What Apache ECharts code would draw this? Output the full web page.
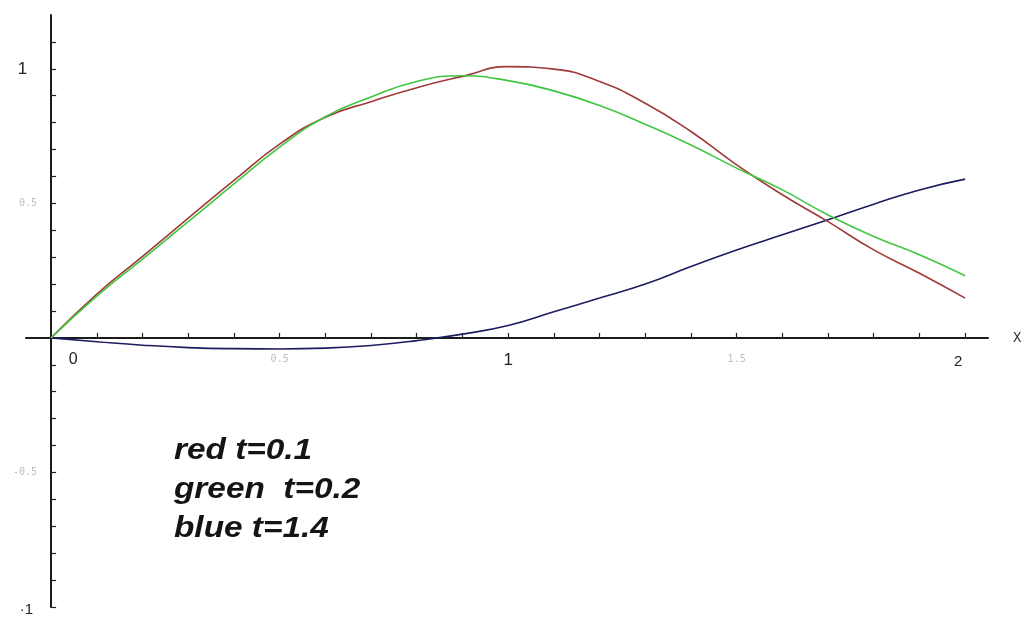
<!DOCTYPE html>
<html>
<head>
<meta charset="utf-8">
<script src="https://cdn.jsdelivr.net/npm/echarts@6/dist/echarts.min.js"></script>
<style>
  html, body { margin: 0; padding: 0; background: #ffffff; }
  #chart { width: 1024px; height: 624px; }
</style>
</head>
<body>
<div id="chart"></div>
<script>
// x positions of the sampled solution values
const xs = [0, 0.1, 0.2, 0.3, 0.4, 0.5, 0.6, 0.7, 0.8, 0.9, 1.0,
            1.1, 1.2, 1.3, 1.4, 1.5, 1.6, 1.7, 1.8, 1.9, 2.0];

// solution profiles for three values of t
const redT01 = [0, 0.163, 0.303, 0.445, 0.585, 0.72, 0.82, 0.878, 0.93, 0.972, 1.008,
                0.999, 0.953, 0.872, 0.767, 0.643, 0.532, 0.432, 0.327, 0.24, 0.148];
const greenT02 = [0, 0.155, 0.293, 0.432, 0.572, 0.709, 0.822, 0.895, 0.953, 0.974, 0.956,
                  0.918, 0.864, 0.794, 0.717, 0.631, 0.55, 0.457, 0.377, 0.309, 0.231];
const blueT14 = [0, -0.014, -0.027, -0.036, -0.04, -0.041, -0.038, -0.028, -0.01, 0.014, 0.046,
                 0.097, 0.148, 0.2, 0.265, 0.327, 0.383, 0.439, 0.497, 0.55, 0.59];

// axis ticks and labels
const xTicks = [0.1, 0.2, 0.3, 0.4, 0.5, 0.6, 0.7, 0.8, 0.9, 1.0,
                1.1, 1.2, 1.3, 1.4, 1.5, 1.6, 1.7, 1.8, 1.9, 2.0];
const xLabels = [0, 0.5, 1, 1.5, 2];
const yTicks = [-1, -0.9, -0.8, -0.7, -0.6, -0.5, -0.4, -0.3, -0.2, -0.1,
                0.1, 0.2, 0.3, 0.4, 0.5, 0.6, 0.7, 0.8, 0.9, 1.0, 1.1];
const yLabels = [-1, -0.5, 0.5, 1];

// legend notes
const notes = ['red t=0.1', 'green  t=0.2', 'blue t=1.4'];

const X_MIN = -0.055, X_MAX = 2.05, Y_MIN = -1, Y_MAX = 1.2;
const GRID = { left: 26, right: 36, top: 15, bottom: 17 };
const W = 1024, H = 624;

// place the axes through the origin: shift them inward from the grid edges
const plotW = W - GRID.left - GRID.right;
const plotH = H - GRID.top - GRID.bottom;
const xAxisShift = -(0 - Y_MIN) / (Y_MAX - Y_MIN) * plotH;
const yAxisShift = -(0 - X_MIN) / (X_MAX - X_MIN) * plotW;

const pairs = ys => xs.map((x, i) => [x, ys[i]]);

const chart = echarts.init(document.getElementById('chart'), null, { renderer: 'canvas' });

const faint = { fontSize: 10, fontFamily: 'DejaVu Sans Mono', color: '#bdbdbd' };
const xRich = {
  z: { fontSize: 16, color: '#222', padding: [2, 0, 0, 44] },
  h: Object.assign({ padding: [4, 0, 0, 0] }, faint),
  o: { fontSize: 17, color: '#222', padding: [2, 0, 0, 0] },
  t: { fontSize: 15, color: '#222', padding: [4, 14, 0, 0] }
};
const yRich = {
  o: { fontSize: 17, color: '#222', padding: [0, 16, 0, 0] },
  h: Object.assign({ padding: [0, 6, 0, 0] }, faint),
  m: { fontSize: 15, color: '#222', padding: [6, 10, 0, 0] }
};

chart.setOption({
  animation: false,
  backgroundColor: '#ffffff',
  grid: Object.assign({ outerBoundsMode: 'none', containLabel: false }, GRID),
  xAxis: {
    type: 'value',
    min: X_MIN,
    max: X_MAX,
    offset: xAxisShift,
    name: 'X',
    nameLocation: 'end',
    nameGap: 25,
    nameTextStyle: { fontFamily: 'Liberation Mono', fontSize: 14, color: '#333', padding: [0, 0, 4, 0] },
    axisLine: { onZero: false, lineStyle: { color: '#1c1c1c', width: 2 } },
    axisTick: { inside: true, length: 5, customValues: xTicks, lineStyle: { color: '#222', width: 1.2 } },
    axisLabel: {
      customValues: xLabels,
      margin: 12,
      fontFamily: 'Liberation Sans',
      formatter: v => {
        if (v === 0) return '{z|0}';
        if (v === 1) return '{o|1}';
        if (v === 2) return '{t|2}';
        return '{h|' + v + '}';
      },
      rich: xRich
    },
    splitLine: { show: false }
  },
  yAxis: {
    type: 'value',
    min: Y_MIN,
    max: Y_MAX,
    offset: yAxisShift,
    axisLine: { onZero: false, lineStyle: { color: '#1c1c1c', width: 2 } },
    axisTick: { inside: true, length: 5, customValues: yTicks, lineStyle: { color: '#222', width: 1.2 } },
    axisLabel: {
      customValues: yLabels,
      margin: 8,
      fontFamily: 'Liberation Sans',
      formatter: v => {
        if (v === 1) return '{o|1}';
        if (v === -1) return '{m|·1}';
        return '{h|' + v + '}';
      },
      rich: yRich
    },
    splitLine: { show: false }
  },
  series: [
    {
      name: 'red t=0.1', type: 'line', data: pairs(redT01), smooth: true,
      showSymbol: false, lineStyle: { color: '#a03a3a', width: 1.6 }, z: 3
    },
    {
      name: 'green t=0.2', type: 'line', data: pairs(greenT02), smooth: true,
      showSymbol: false, lineStyle: { color: '#40c640', width: 1.6 }, z: 4
    },
    {
      name: 'blue t=1.4', type: 'line', data: pairs(blueT14), smooth: true,
      showSymbol: false, lineStyle: { color: '#1c1c60', width: 1.6 }, z: 2
    }
  ],
  graphic: notes.map((s, i) => ({
    type: 'text',
    x: 174,
    y: 436 + i * 39,
    scaleX: 1.15,
    style: {
      text: s,
      font: 'italic bold 29px "Liberation Sans"',
      fill: '#141414',
      verticalAlign: 'top'
    }
  }))
});
</script>
</body>
</html>
